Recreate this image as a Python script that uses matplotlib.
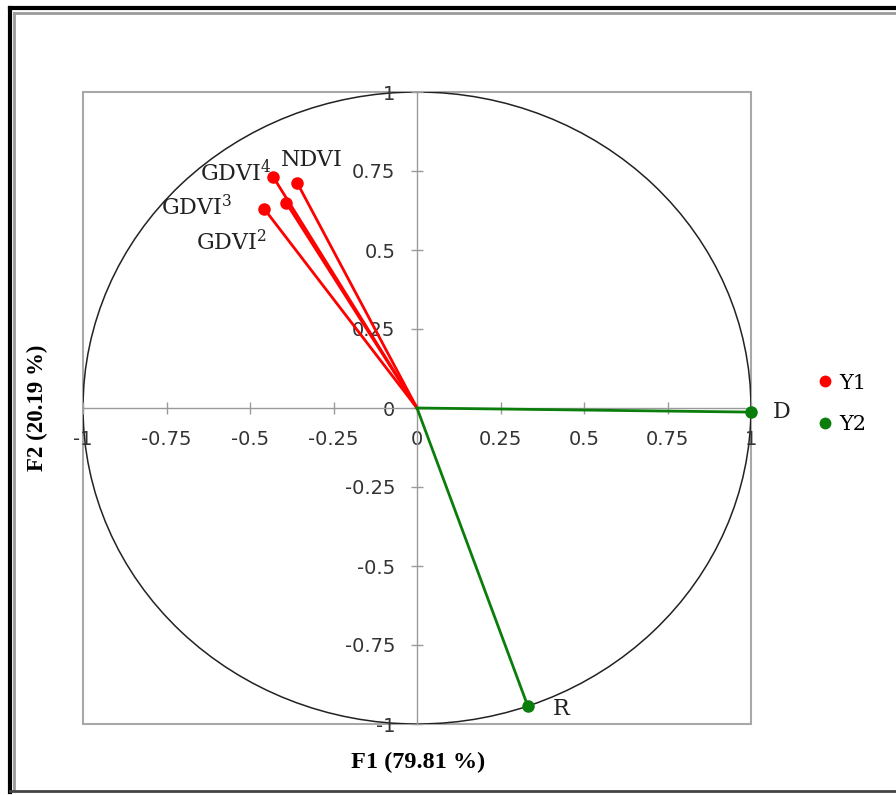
import matplotlib.pyplot as plt
from matplotlib.lines import Line2D
from matplotlib.patches import Ellipse, Rectangle

plt.rcParams['mathtext.fontset'] = 'custom'
plt.rcParams['mathtext.rm'] = 'DejaVu Serif'

# correlations of the variables with factors F1 / F2
y1_names = ['NDVI', 'GDVI$^{4}$', 'GDVI$^{3}$', 'GDVI$^{2}$']
y1_f1 = [-0.359, -0.431, -0.458, -0.392]
y1_f2 = [0.713, 0.732, 0.631, 0.650]

y2_names = ['D', 'R']
y2_f1 = [1.000, 0.332]
y2_f2 = [-0.013, -0.944]

ticks = [-1, -0.75, -0.5, -0.25, 0, 0.25, 0.5, 0.75, 1]
tick_labels = ['-1', '-0.75', '-0.5', '-0.25', '0', '0.25', '0.5', '0.75', '1']

# label placement, pixel offsets from each point
y1_offsets = [(15, 23, 'center'), (-1, 4, 'right'), (-32, 1, 'right'), (-19, -40, 'right')]
y2_offsets = [(31, 0, 'center'), (33, -3, 'center')]

W, H = 896, 795
fig = plt.figure(figsize=(W / 100, H / 100), dpi=100)


def fx(px):
    return px / W


def fy(py):
    return 1 - py / H


ax = fig.add_axes([fx(83), fy(724), (751 - 83) / W, (724 - 92) / H])
ax.set_xlim(-1, 1)
ax.set_ylim(-1, 1)

for side in ['top', 'right']:
    ax.spines[side].set_visible(False)
for side in ['left', 'bottom']:
    ax.spines[side].set_position('zero')
    ax.spines[side].set_color('#9a9a9a')
    ax.spines[side].set_linewidth(1.0)
ax.add_patch(Rectangle((0, 0), 1, 1, transform=ax.transAxes, fill=False,
                       edgecolor='#a8a8a8', lw=1.5, clip_on=False, zorder=0))

ax.set_xticks(ticks)
ax.set_xticklabels(tick_labels)
ax.set_yticks(ticks)
ax.set_yticklabels(tick_labels)
ax.tick_params(direction='inout', length=9, width=1, color='#9a9a9a',
               labelsize=14, labelcolor='#333333', pad=11)

# correlation circle
ax.add_patch(Ellipse((0, 0), 2, 2, fill=False, ec='#222222', lw=1.1, zorder=1))

label_font = dict(family='DejaVu Serif', size=16, color='#222222')

for name, x, y, (dx, dy, ha) in zip(y1_names, y1_f1, y1_f2, y1_offsets):
    ax.plot([0, x], [0, y], color='red', lw=2, zorder=3, clip_on=False)
    ax.plot(x, y, 'o', color='red', ms=8, zorder=4, clip_on=False)
    ax.annotate(name, (x, y), xytext=(dx, dy), textcoords='offset pixels',
                ha=ha, va='center', **label_font)

for name, x, y, (dx, dy, ha) in zip(y2_names, y2_f1, y2_f2, y2_offsets):
    ax.plot([0, x], [0, y], color='#0b7d0b', lw=2, zorder=3, clip_on=False)
    ax.plot(x, y, 'o', color='#0b7d0b', ms=8, zorder=4, clip_on=False)
    ax.annotate(name, (x, y), xytext=(dx, dy), textcoords='offset pixels',
                ha=ha, va='center', annotation_clip=False, **label_font)

handles = [
    Line2D([], [], marker='o', ls='', color='red', ms=7.5, label='Y1'),
    Line2D([], [], marker='o', ls='', color='#0b7d0b', ms=7.5, label='Y2'),
]
fig.legend(handles=handles, loc='center left', bbox_to_anchor=(fx(798), fy(404)),
           frameon=False, prop={'family': 'DejaVu Serif', 'size': 15},
           handlelength=0.8, handletextpad=0.3, labelspacing=1.1)

fig.text(fx(418), fy(762), 'F1 (79.81 %)', ha='center', va='center',
         fontsize=17.5, fontweight='bold', family='Liberation Serif')
fig.text(fx(37), fy(408), 'F2 (20.19 %)', ha='center', va='center', rotation=90,
         fontsize=16.5, fontweight='bold', family='Liberation Serif')

# picture frame
frame = [
    ((10, 8), (896, 8), 'black', 3),
    ((10, 8), (10, 792), 'black', 3),
    ((14, 13), (896, 13), '#9a9a9a', 2),
    ((14, 13), (14, 790), '#9a9a9a', 2),
    ((10, 791), (896, 791), '#444444', 2),
]
for (x0, y0), (x1, y1), c, lw in frame:
    fig.add_artist(Line2D([fx(x0), fx(x1)], [fy(y0), fy(y1)], color=c, lw=lw,
                          transform=fig.transFigure))

fig.savefig('out.png', dpi=100)
